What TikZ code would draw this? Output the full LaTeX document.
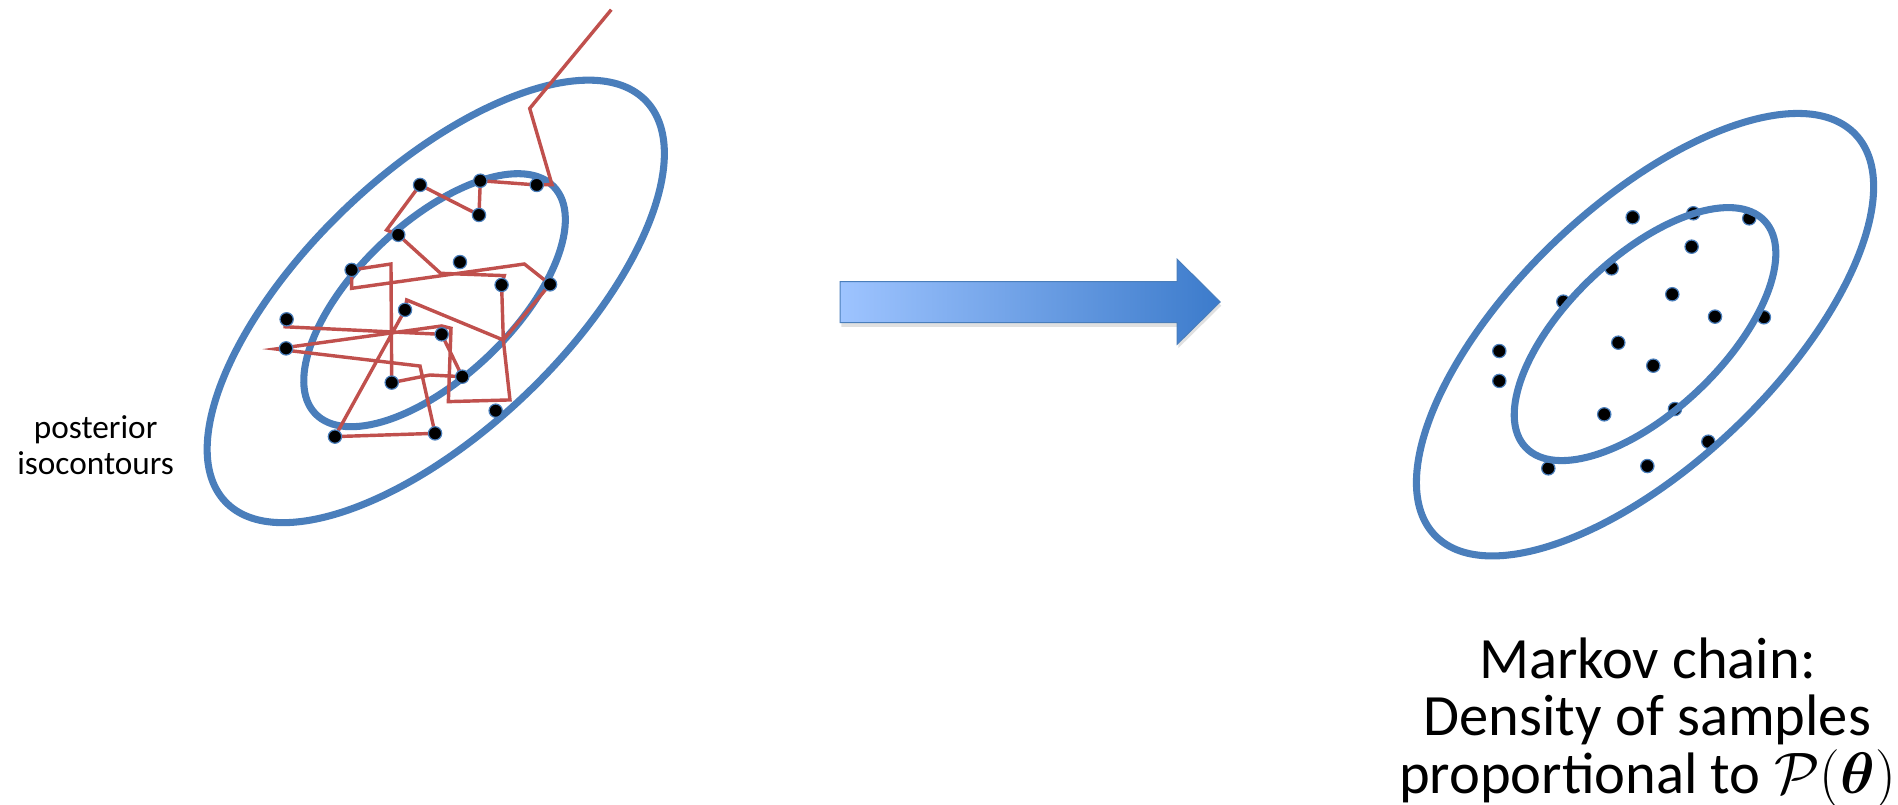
\RequirePackage{fix-cm}
\documentclass[tikz,border=0pt]{standalone}
\usepackage{amsmath,amssymb}
\usepackage{fontspec}
\setmainfont{Carlito}
\usepackage{tikz}
\usetikzlibrary{backgrounds}

\definecolor{isoblue}{HTML}{4A7EBB}
\definecolor{mcred}{HTML}{C0504D}
\definecolor{arrowlight}{HTML}{9EC4FF}
\definecolor{arrowdark}{HTML}{3C7BCB}
\tikzset{
  iso/.style={draw=isoblue, line width=3.5pt},
  smp/.style={circle, fill=black, draw=isoblue, line width=0.6pt, inner sep=0pt, minimum size=6.6pt},
  mcmc/.style={draw=mcred, line width=1.7pt},
}

\begin{document}
\begin{tikzpicture}[x=0.6pt, y=-0.6pt]
\useasboundingbox (0,0) rectangle (1568,665);

% Left: random walk inside the posterior
\foreach \n/\x/\y in {1/347/152.8, 2/396.8/149.3, 3/443.4/152.8, 4/395.7/177.6, 5/329/194,
    6/290.5/223, 7/380/216.5, 8/414.4/235.4, 9/454.4/234.9, 10/334.6/256, 11/236.8/263.8,
    12/364.9/276.2, 13/236.3/287.8, 14/323.6/316.1, 15/381.9/311.2, 16/409.5/339.3,
    17/276.7/360.7, 18/359.4/358} {
    \node[smp] (l\n) at (\x,\y) {};
}
\coordinate (start) at (505,8);
\foreach \n/\x/\y in {1/437.6/89.6, 2/456/152.5, 3/319.4/190, 4/364/225.8, 5/416.6/227.7,
    6/415.8/280.9, 7/421.3/330.4, 8/370.4/331.8, 9/372.6/271.2, 10/364.9/269.3,
    11/227.7/288.3, 12/347/302.4, 13/336/247.8, 14/433.2/218.1, 15/290.5/238.2,
    16/323/218.1, 17/355.2/309.8, 18/234.1/269.9} {
    \coordinate (c\n) at (\x,\y);
}
\begin{scope}[on background layer]
\draw[iso, rotate around={43.6:(360,249)}] (360,249) ellipse [x radius=240, y radius=107];
\draw[iso, rotate around={43.5:(359,248)}] (359,248) ellipse [x radius=136, y radius=64];
\draw[mcmc] (start) -- (c1) -- (c2) -- (l3.center) -- (l2.center) -- (l4.center) -- (l1.center)
    -- (c3) -- (l5.center) -- (c4) -- (c5) -- (l8.center) -- (c6) -- (c7) -- (c8) -- (c9)
    -- (c10) -- (c11) -- (c12) -- (l18.center) -- (l17.center) -- (l10.center) -- (c13)
    -- (c6) -- (l9.center) -- (c14) -- (c15) -- (l6.center) -- (c16) -- (l14.center)
    -- (c17) -- (l15.center) -- (l12.center) -- (c18);
\end{scope}
\node[align=center, font=\fontsize{16.5}{17.8}\selectfont] (isolabel) at (79,368) {posterior\\isocontours};

% Transition arrow
\fill[black, opacity=0.12] (695,236) -- (973.5,236) -- (973.5,217.5) -- (1009,252.5)
    -- (973.5,287.5) -- (973.5,270) -- (695,270) -- cycle;
\path[left color=arrowlight, right color=arrowdark, draw=isoblue, line width=0.5pt]
    (694,232.7) -- (972.5,232.7) -- (972.5,214.2) -- (1008,249.4)
    -- (972.5,284.4) -- (972.5,266.6) -- (694,266.6) -- cycle;

% Right: resulting samples
\foreach \n/\x/\y in {1/1348.8/179.5, 2/1398.9/176.2, 3/1445.1/180.4, 4/1397.5/203.8,
    5/1331.4/221.7, 6/1291.5/249.2, 7/1381.5/243.1, 8/1416.8/261.6, 9/1457.2/262.1,
    10/1238.6/290, 11/1238.6/314.7, 12/1336.9/283.1, 13/1365.8/302.1, 14/1325.3/342.3,
    15/1383.7/337.9, 16/1411.3/364.9, 17/1279.1/386.9, 18/1360.9/385} {
    \node[smp] (r\n) at (\x,\y) {};
}
\draw[iso, rotate around={43.6:(1359,276.5)}] (1359,276.5) ellipse [x radius=240, y radius=107];
\draw[iso, rotate around={43.5:(1359,276)}] (1359,276) ellipse [x radius=136, y radius=64];
\node[align=center, font=\fontsize{29}{28.5}\selectfont] (result) at (1361,597)
    {Markov chain:\\Density of samples\\proportional to $\mathcal{P}(\boldsymbol{\theta})$};
\end{tikzpicture}
\end{document}
